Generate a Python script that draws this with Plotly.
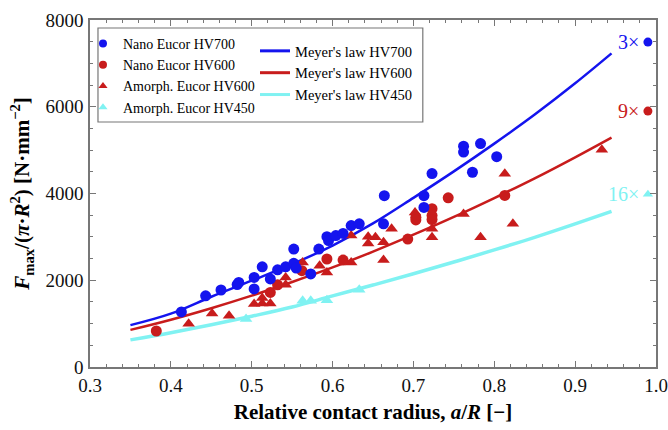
import plotly.graph_objects as go

# ---------------- data ----------------
nano700_x = [0.413, 0.443, 0.462, 0.482, 0.484, 0.503, 0.503, 0.513, 0.523, 0.532, 0.542,
             0.552, 0.552, 0.555, 0.573, 0.583, 0.593, 0.595, 0.604, 0.613, 0.623, 0.633,
             0.663, 0.664, 0.713, 0.713, 0.723, 0.762, 0.762, 0.773, 0.783, 0.803]
nano700_y = [1270, 1640, 1775, 1900, 1950, 2065, 1800, 2310, 2030, 2240, 2310,
             2720, 2390, 2280, 2145, 2720, 3005, 2915, 3030, 3080, 3260, 3300,
             3300, 3950, 3950, 3680, 4460, 5090, 4955, 4490, 5150, 4850]

nano600_x = [0.382, 0.523, 0.532, 0.562, 0.593, 0.613, 0.693, 0.703, 0.703, 0.723, 0.723,
             0.723, 0.743, 0.813]
nano600_y = [830, 1720, 1895, 2220, 2490, 2465, 2950, 3450, 3390, 3650, 3490,
             3400, 3900, 3955]

amo600_x = [0.422, 0.451, 0.472, 0.503, 0.513, 0.513, 0.523, 0.542, 0.542, 0.563, 0.584,
            0.593, 0.623, 0.623, 0.644, 0.644, 0.653, 0.663, 0.663, 0.673, 0.702, 0.723,
            0.723, 0.762, 0.783, 0.813, 0.823, 0.933]
amo600_y = [1000, 1235, 1180, 1450, 1590, 1465, 1465, 1895, 2065, 2410, 2335,
            2180, 3030, 2410, 3005, 2850, 2990, 2875, 2465, 3185, 3560, 3190,
            2990, 3530, 2990, 4455, 3300, 5010]

amo450_x = [0.493, 0.563, 0.573, 0.593, 0.633]
amo450_y = [1105, 1525, 1525, 1540, 1780]

# outliers drawn at the right edge, with their multiplication labels
out_x = [0.99, 0.99, 0.99]
out_y = [7490, 5900, 3980]
out_labels = ["3×", "9×", "16×"]

# Meyer's law curves
meyer_x = [0.35, 0.40, 0.45, 0.50, 0.55, 0.60, 0.65, 0.70, 0.75, 0.80, 0.85, 0.90, 0.945]
meyer700_y = [965, 1230, 1620, 1990, 2370, 2800, 3310, 3900, 4510, 5150, 5820, 6540, 7230]
meyer600_y = [855, 1090, 1355, 1645, 1960, 2295, 2660, 3050, 3460, 3895, 4350, 4835, 5290]
meyer450_y = [625, 790, 972, 1170, 1384, 1640, 1890, 2150, 2420, 2700, 2990, 3300, 3590]

x_range = [0.3, 1.0]
y_range = [0, 8000]

# ---------------- styles ----------------
BLUE = "#1414ee"
RED = "#c81c1c"
CYAN = "#80f2f2"
SERIF = "Liberation Serif, Times New Roman, serif"
AXIS_COL = "#777777"

fig = go.Figure()

def scatter(x, y, color, symbol, size=11):
    return go.Scatter(x=x, y=y, mode="markers", showlegend=False,
                      marker=dict(color=color, symbol=symbol, size=size, line=dict(width=0)))

# lines first (below markers)
fig.add_trace(go.Scatter(x=meyer_x, y=meyer450_y, mode="lines", line=dict(color=CYAN, width=3.5, shape="spline"),
                         showlegend=False))
fig.add_trace(go.Scatter(x=meyer_x, y=meyer600_y, mode="lines", line=dict(color=RED, width=2.5, shape="spline"),
                         showlegend=False))
fig.add_trace(go.Scatter(x=meyer_x, y=meyer700_y, mode="lines", line=dict(color=BLUE, width=2.5, shape="spline"),
                         showlegend=False))

fig.add_trace(scatter(amo450_x, amo450_y, CYAN, "triangle-up"))
fig.add_trace(scatter(amo600_x, amo600_y, RED, "triangle-up"))
fig.add_trace(scatter(nano600_x, nano600_y, RED, "circle"))
fig.add_trace(scatter(nano700_x, nano700_y, BLUE, "circle"))

out_colors = [BLUE, RED, CYAN]
out_symbols = ["circle", "circle", "triangle-up"]
for xv, yv, c, s, lab in zip(out_x, out_y, out_colors, out_symbols, out_labels):
    fig.add_trace(scatter([xv], [yv], c, s, size=9))
    fig.add_annotation(x=0.9815, y=yv, xref="x", yref="y", text=lab, showarrow=False,
                       xanchor="right", yanchor="middle",
                       font=dict(family=SERIF, size=20, color=c))

# legend-only entries (smaller symbols like the reference)
legend_items = [("Nano Eucor HV700", BLUE, "circle"),
                ("Nano Eucor HV600", RED, "circle"),
                ("Amorph. Eucor HV600", RED, "triangle-up"),
                ("Amorph. Eucor HV450", CYAN, "triangle-up")]
for name, c, s in legend_items:
    fig.add_trace(go.Scatter(x=[None], y=[None], mode="markers", name=name, legend="legend",
                             marker=dict(color=c, symbol=s, size=8)))
line_items = [("Meyer's law HV700", BLUE), ("Meyer's law HV600", RED), ("Meyer's law HV450", CYAN)]
for name, c in line_items:
    fig.add_trace(go.Scatter(x=[None], y=[None], mode="lines", name=name, legend="legend2",
                             line=dict(color=c, width=3)))

# legend frame
fig.add_shape(type="rect", xref="paper", yref="paper", x0=0.0141, x1=0.588, y0=0.706, y1=0.977,
              line=dict(color=AXIS_COL, width=1.2), fillcolor="rgba(0,0,0,0)", layer="above")

axis_common = dict(showline=True, linecolor=AXIS_COL, linewidth=1.5, mirror="ticks",
                   ticks="inside", ticklen=6, tickcolor=AXIS_COL, tickwidth=1,
                   showgrid=False, zeroline=False, automargin=False,
                   tickfont=dict(family=SERIF, size=19, color="#111111"))

fig.update_layout(
    width=668, height=430,
    margin=dict(l=90, r=12, t=20, b=63, autoexpand=False),
    paper_bgcolor="white", plot_bgcolor="white",
    font=dict(family=SERIF, color="black"),
    xaxis=dict(range=x_range, dtick=0.1, tick0=0.3, tickformat=".1f",
               minor=dict(dtick=0.02, ticks="inside", ticklen=3.5, tickcolor=AXIS_COL),
               title=dict(text="<b>Relative contact radius, <i>a</i>/<i>R</i> [−]</b>",
                          font=dict(family=SERIF, size=21, color="black"), standoff=10),
               **axis_common),
    yaxis=dict(range=y_range, dtick=2000, tickformat="d", ticklabelstandoff=1,
               minor=dict(dtick=500, ticks="inside", ticklen=3.5, tickcolor=AXIS_COL),
               title=dict(text="<b><i>F</i><sub>max</sub>/(<i>π</i>·<i>R</i><sup>2</sup>) [N·mm<sup>−2</sup>]</b>",
                          font=dict(family=SERIF, size=21, color="black"), standoff=10),
               **axis_common),
    legend=dict(x=-0.0124, y=0.977, xanchor="left", yanchor="top", bgcolor="rgba(0,0,0,0)",
                borderwidth=0, font=dict(family=SERIF, size=14, color="black"),
                tracegroupgap=0, itemwidth=30),
    legend2=dict(x=0.2915, y=0.957, xanchor="left", yanchor="top", bgcolor="rgba(0,0,0,0)",
                 borderwidth=0, font=dict(family=SERIF, size=14.5, color="black"),
                 tracegroupgap=0, itemwidth=30),
)

fig.write_html("out.html", config={"displayModeBar": False},
               post_script="document.body.style.margin='0';")
